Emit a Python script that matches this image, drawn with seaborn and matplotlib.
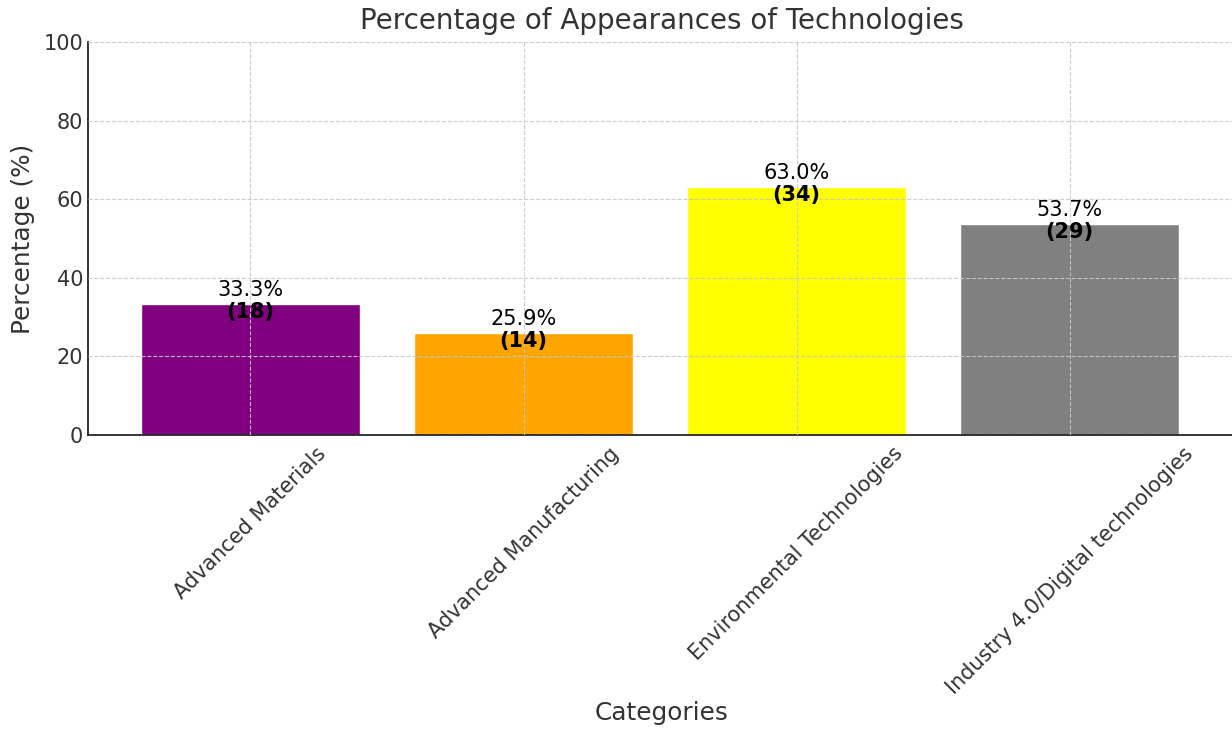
import matplotlib
matplotlib.use('Agg')
import matplotlib.pyplot as plt
import seaborn as sns
import pandas as pd

# Data
categories = ['Advanced Materials', 'Advanced Manufacturing',
              'Environmental Technologies', 'Industry 4.0/Digital technologies']
percentages = [33.3, 25.9, 63.0, 53.7]
counts = [18, 14, 34, 29]
bar_colors = ['#800080', '#FFA500', '#FFFF00', '#808080']

df = pd.DataFrame({'Category': categories, 'Percentage': percentages, 'Count': counts})

sns.set_style('white')
plt.rcParams['font.family'] = ['DejaVu Sans']

fig = plt.figure(figsize=(12.32, 7.35), dpi=100)
ax = fig.add_axes([0.0714, 0.408, 0.931, 0.535])

sns.barplot(data=df, x='Category', y='Percentage', hue='Category',
            palette=bar_colors, legend=False, width=0.8, saturation=1, ax=ax)

# Labels on bars
for i, row in df.iterrows():
  ax.text(i, row['Percentage'] + 1.1, f"{row['Percentage']:.1f}%",
          ha='center', va='bottom', fontsize=15, color='black')
  ax.text(i, row['Percentage'] - 2.0, f"({row['Count']})",
          ha='center', va='center', fontsize=15, fontweight='bold', color='black')

ax.set_ylim(0, 100)
ax.set_xlim(-0.595, 3.605)

# Title and labels
ax.set_title('Percentage of Appearances of Technologies', fontsize=20, color='#333333', pad=9)
ax.set_xlabel('Categories', fontsize=17.8, color='#333333', labelpad=2)
ax.set_ylabel('Percentage (%)', fontsize=17.8, color='#333333', labelpad=6)

plt.setp(ax.get_xticklabels(), rotation=45, fontsize=15, color='#333333')
plt.setp(ax.get_yticklabels(), fontsize=15, color='#333333')
ax.tick_params(axis='both', direction='in', length=5, color='#333333', width=1)
ax.tick_params(axis='x', pad=6)

# Grid over the bars
ax.set_axisbelow(False)
ax.grid(True, linestyle='--', color='#c8c8c8', linewidth=0.8, alpha=0.9)

# Spines
for s in ['top', 'right']:
  ax.spines[s].set_visible(False)
for s in ['left', 'bottom']:
  ax.spines[s].set_color('#222222')
  ax.spines[s].set_linewidth(1.3)

fig.savefig('out.png', dpi=100)
plt.close()
